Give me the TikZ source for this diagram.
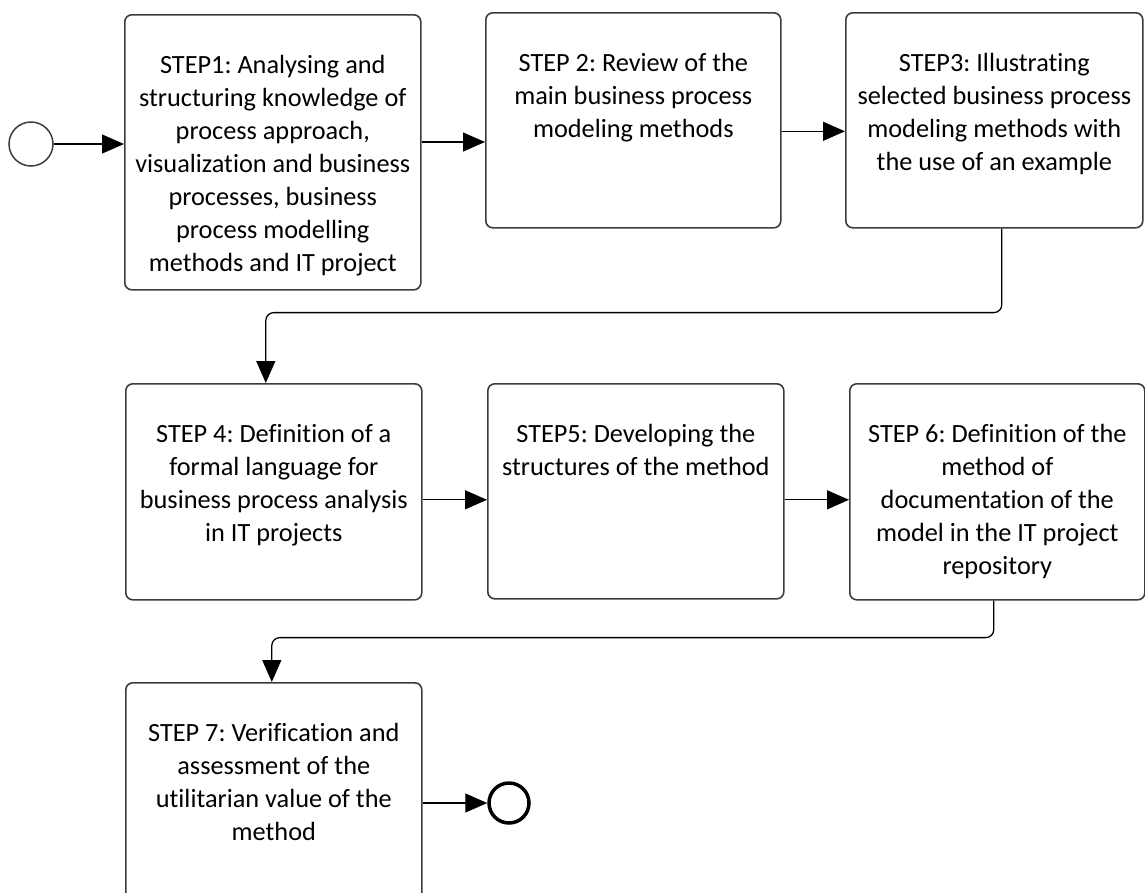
\documentclass[tikz,border=0pt]{standalone}
\usepackage{fontspec}
\setmainfont{Carlito}[Ligatures=NoCommon]
\definecolor{boxgray}{HTML}{3C3C3C}
\usetikzlibrary{arrows.meta, calc, positioning}
\newcommand{\steptext}[2]{\parbox[c][#1][t]{294pt}{\centering\frenchspacing\vspace*{36pt}\strut #2}}

\begin{document}
\begin{tikzpicture}[x=1pt,y=-1pt,
	stepbox/.style={draw=boxgray,line width=1.6pt,rounded corners=7pt,inner sep=0pt,
		anchor=north west,font=\fontsize{26.3}{33}\selectfont},
	flow/.style={line width=1.3pt,-{Triangle[length=22pt,width=19pt]},rounded corners=8pt},
	startev/.style={draw=boxgray,circle,line width=1.5pt,minimum size=44pt,inner sep=0pt},
	endev/.style={draw=black,circle,line width=3.5pt,minimum size=40pt,inner sep=0pt}]
	\useasboundingbox (0,0) rectangle (1145,892);
	\clip (0,0) rectangle (1145,892);
			% events
			\node[startev] (start) at (31,144) {};
			\node[endev] (end) at (509,803) {};
			% steps
			\node[stepbox,minimum width=296pt] (s1) at (124,14) {\steptext{275pt}{STEP1: Analysing and\\ structuring knowledge of\\ process approach,\\ visualization and business\\ processes, business\\ process modelling\\ methods and IT project}};
			\node[stepbox,minimum width=295pt] (s2) at (485,12) {\steptext{215pt}{STEP 2: Review of the\\ main business process\\ modeling methods}};
			\node[stepbox,minimum width=297pt] (s3) at (845,12) {\steptext{215pt}{STEP3: Illustrating\\ selected business process\\ modeling methods with\\ the use of an example}};
			\node[stepbox,minimum width=296pt] (s4) at (125,383) {\steptext{216pt}{STEP 4: Definition of a\\ formal language for\\ business process analysis\\ in IT projects}};
			\node[stepbox,minimum width=296pt] (s5) at (487,383) {\steptext{215pt}{STEP5: Developing the\\ structures of the method}};
			\node[stepbox,minimum width=295pt] (s6) at (849,383) {\steptext{216pt}{STEP 6: Definition of the\\ method of\\ documentation of the\\ model in the IT project\\ repository}};
			\node[stepbox,minimum width=296pt] (s7) at (125,682) {\steptext{240pt}{STEP 7: Verification and\\ assessment of the\\ utilitarian value of the\\ method}};
			% connectors
			\draw[flow] (start) -- (s1.west |- start);
			\draw[flow] ([yshift=2pt]s1.east |- start) -- ([yshift=2pt]s2.west |- start);
			\draw[flow] ([yshift=-11pt]s2.east) -- ([yshift=-11pt]s3.west);
			\draw[flow] ([xshift=7.5pt]s3.south) -- ++(0,84) -| ([xshift=-8pt]s4.north);
			\draw[flow] ([yshift=-8pt]s4.east) -- ([yshift=-8pt]s4.east -| s5.west);
			\draw[flow] ([yshift=-8.5pt]s5.east) -- ([yshift=-8.5pt]s5.east -| s6.west);
			\draw[flow] ([xshift=-3.5pt]s6.south) -- ++(0,37) -| ([xshift=-2pt]s7.north);
			\draw[flow] (s7.east |- end) -- (end);
\end{tikzpicture}
\end{document}
